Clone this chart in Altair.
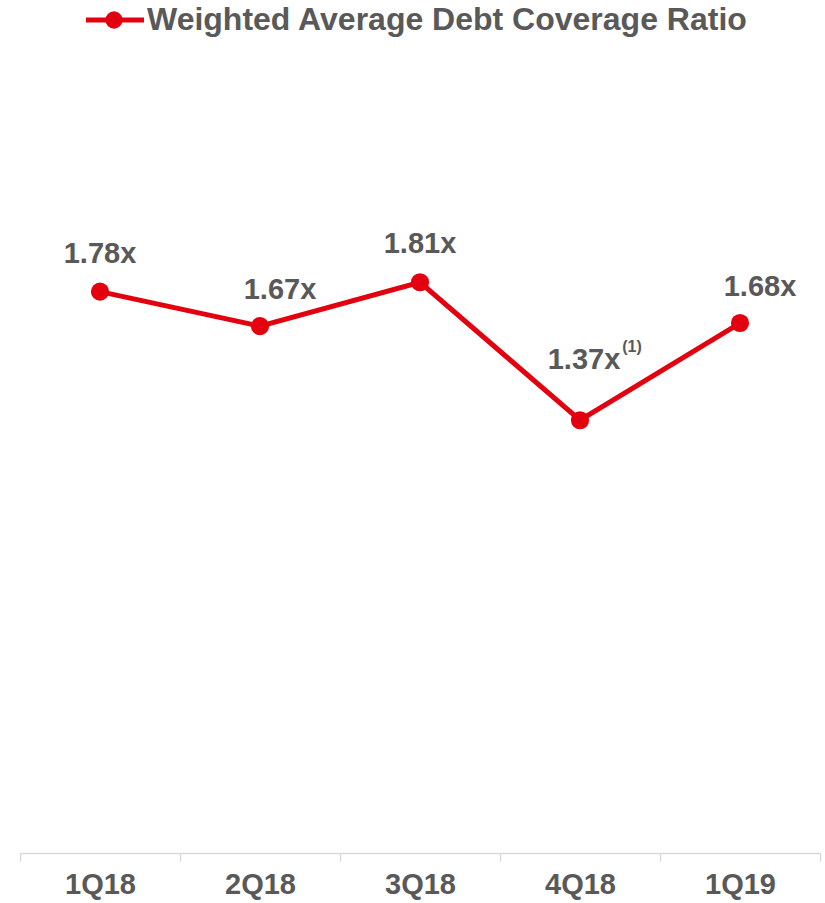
import altair as alt
import pandas as pd

quarters = ["1Q18", "2Q18", "3Q18", "4Q18", "1Q19"]
ratios = [1.78, 1.67, 1.81, 1.37, 1.68]
series_name = "Weighted Average Debt Coverage Ratio"
footnote = "(1)"

RED = "#E3000F"
GRAY = "#595959"
FONT = "Liberation Sans"

df = pd.DataFrame({"quarter": quarters, "ratio": ratios})

x = alt.X("quarter:N", sort=quarters,
          scale=alt.Scale(type="band", paddingInner=0, paddingOuter=0),
          axis=alt.Axis(title=None, labelAngle=0, tickBand="extent",
                        labelFont=FONT, labelFontSize=29, labelFontWeight="bold",
                        labelColor=GRAY, domainColor="#D9D9D9", domainWidth=1.5,
                        tickColor="#D9D9D9", tickWidth=1.5, tickSize=8,
                        labelPadding=9, grid=False))
y = alt.Y("ratio:Q", scale=alt.Scale(domain=[-0.01, 2.49], nice=False, zero=False), axis=None)

base = alt.Chart(df).encode(x=x, y=y)

line = base.mark_line(color=RED, strokeWidth=5)
pts = base.mark_circle(color=RED, size=330, opacity=1)

lbl = base.transform_calculate(label="format(datum.ratio, '.2f') + 'x'")

def text_layer(qs, dx, dy):
    return lbl.transform_filter(
        alt.FieldOneOfPredicate(field="quarter", oneOf=qs)
    ).mark_text(font=FONT, fontSize=29, fontWeight="bold", color=GRAY,
                dx=dx, dy=dy, baseline="middle").encode(text="label:N")

t1 = text_layer(["1Q18", "3Q18"], 0, -38)
t2 = text_layer(["2Q18", "1Q19"], 20, -36)
t3 = text_layer(["4Q18"], 4, -60)

sup = base.transform_filter(alt.FieldEqualPredicate(field="quarter", equal="4Q18")).transform_calculate(
    fn=f"'{footnote}'"
).mark_text(font=FONT, fontSize=16, fontWeight="bold", color=GRAY, dx=52, dy=-73,
            baseline="middle").encode(text="fn:N")

leg_df = pd.DataFrame({"name": [series_name]})
leg_line = alt.Chart(leg_df).mark_rule(color=RED, strokeWidth=5).encode(
    x=alt.value(66), x2=alt.value(124), y=alt.value(-49))
leg_pt = alt.Chart(leg_df).mark_circle(color=RED, size=300, opacity=1).encode(
    x=alt.value(94), y=alt.value(-49))
leg_txt = alt.Chart(leg_df).mark_text(font=FONT, fontSize=32, fontWeight="bold", color=GRAY,
                                      align="left", baseline="middle").encode(
    x=alt.value(127), y=alt.value(-49), text="name:N")

chart = alt.layer(line, pts, t1, t2, t3, sup, leg_line, leg_pt, leg_txt).properties(
    width=800, height=784,
    padding={"left": 20, "top": 69, "right": 5, "bottom": 50},
    autosize=alt.AutoSizeParams(type="none"),
    background="white",
).configure_view(strokeWidth=0)

chart.save("out.html", embed_options={"renderer": "svg", "actions": False})
